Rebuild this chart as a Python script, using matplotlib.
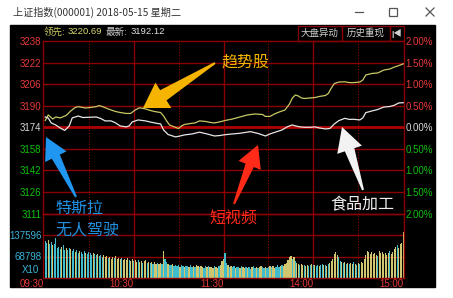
import numpy as np
import matplotlib
matplotlib.use('Agg')
from matplotlib import pyplot as plt
from matplotlib.patches import Rectangle, Polygon

plt.rcParams['font.family'] = ['Liberation Sans', 'Noto Sans CJK SC', 'DejaVu Sans']
CJK = ['Noto Sans CJK SC', 'DejaVu Sans']

# ---- data ----
pre_close = 3174.03
price_labels = ['3238', '3222', '3206', '3190', '3174', '3158', '3142', '3126', '3111']
pct_labels = ['2.00%', '1.50%', '1.00%', '0.50%', '0.00%', '0.50%', '1.00%', '1.50%', '2.00%']
vol_labels = ['137596', '68798']
vol_ticks = [137596, 68798]
time_labels = ['09:30', '10:30', '11:30', '14:00', '15:00']
time_ticks = [0, 60, 120, 180, 240]

# index (white) line, minute index -> points
idx_min = [1, 3, 5, 8, 11, 14, 17, 19, 23, 26, 31, 35, 38, 41, 45, 48, 51, 55, 57, 59,
           63, 68, 71, 76, 78, 80, 83, 88, 91, 94, 99, 104, 109, 114, 118, 120, 124, 131,
           138, 143, 148, 151, 154, 159, 163, 166, 168, 171, 174, 178, 181, 184, 188, 191,
           194, 197, 201, 204, 207, 211, 213, 215, 219, 223, 227, 231, 234, 237, 240]
idx_val = [3181.6, 3180.8, 3177.2, 3175.7, 3173.5, 3171.7, 3175.0, 3180.9, 3182.3, 3181.2,
           3181.4, 3181.6, 3180.5, 3178.7, 3178.7, 3177.2, 3175.0, 3174.3, 3175.0, 3177.9,
           3179.4, 3178.7, 3177.9, 3176.8, 3176.5, 3172.0, 3168.7, 3166.9, 3167.6, 3168.4,
           3169.1, 3170.4, 3169.1, 3167.6, 3168.0, 3168.4, 3168.9, 3169.6, 3170.8, 3169.5,
           3167.6, 3169.1, 3170.2, 3172.0, 3174.6, 3175.7, 3175.0, 3174.3, 3174.0, 3174.0,
           3174.3, 3173.5, 3172.8, 3173.1, 3176.5, 3178.9, 3180.6, 3179.8, 3179.9, 3179.4,
           3180.9, 3184.8, 3186.0, 3187.1, 3188.9, 3189.3, 3190.2, 3191.9, 3192.1]

# leading (yellow) line
lead_min = [1, 3, 6, 8, 11, 15, 18, 21, 23, 28, 31, 35, 37, 40, 43, 48, 51, 55, 58, 61,
            64, 68, 71, 74, 78, 80, 82, 84, 88, 90, 92, 94, 98, 101, 104, 108, 111, 114,
            118, 121, 126, 131, 136, 141, 146, 148, 151, 154, 158, 161, 164, 166, 168, 170,
            172, 174, 178, 181, 184, 188, 190, 192, 194, 197, 201, 204, 207, 211, 213, 215,
            219, 223, 227, 231, 234, 237, 240]
lead_val = [3179.0, 3183.1, 3180.1, 3181.6, 3180.9, 3182.7, 3186.0, 3188.6, 3189.2, 3188.2,
            3188.6, 3189.2, 3190.0, 3188.9, 3187.5, 3185.6, 3184.9, 3184.2, 3184.2, 3186.7,
            3188.4, 3187.5, 3186.4, 3185.6, 3184.9, 3182.3, 3178.7, 3175.7, 3173.9, 3173.1,
            3175.0, 3176.1, 3176.8, 3177.2, 3178.7, 3178.3, 3177.6, 3177.2, 3178.1, 3179.0,
            3180.1, 3181.6, 3183.1, 3183.8, 3183.4, 3182.0, 3182.0, 3183.8, 3185.6, 3186.7,
            3191.1, 3195.6, 3197.8, 3197.0, 3195.6, 3195.2, 3195.6, 3195.9, 3196.7, 3197.4,
            3198.9, 3202.9, 3206.2, 3207.3, 3207.5, 3206.9, 3206.9, 3207.3, 3208.8, 3212.5,
            3213.6, 3214.0, 3216.1, 3216.9, 3218.3, 3219.4, 3220.7]

# per-minute volume (241 bars)
volume = [204000, 118000, 112000, 120000, 108000, 115000, 104000, 110000, 127000, 96000,
          100000, 92000, 98000, 104000, 90000, 95000, 88000, 97000, 93000, 86000,
          92000, 84000, 89000, 80000, 86000, 82000, 78000, 85000, 80000, 76000,
          83000, 79000, 74000, 81000, 77000, 72000, 78000, 70000, 75000, 68000,
          72000, 66000, 70000, 64000, 68000, 62000, 67000, 63000, 69000, 60000,
          65000, 61000, 64000, 58000, 62000, 57000, 63000, 59000, 55000, 60000,
          54000, 58000, 52000, 56000, 50000, 55000, 49000, 53000, 57000, 48000,
          52000, 47000, 50000, 46000, 51000, 45000, 49000, 44000, 48000, 46000,
          86000, 62000, 52000, 45000, 42000, 40000, 44000, 38000, 41000, 37000,
          40000, 36000, 42000, 38000, 35000, 39000, 37000, 34000, 40000, 36000,
          38000, 35000, 41000, 37000, 34000, 39000, 36000, 33000, 38000, 35000,
          37000, 34000, 36000, 33000, 38000, 35000, 32000, 37000, 40000, 55000,
          62000, 80000, 48000, 40000, 36000, 38000, 34000, 37000, 33000, 36000,
          35000, 32000, 38000, 34000, 31000, 36000, 33000, 35000, 30000, 34000,
          37000, 33000, 36000, 32000, 35000, 38000, 34000, 31000, 36000, 33000,
          35000, 39000, 34000, 37000, 33000, 36000, 40000, 35000, 38000, 42000,
          39000, 44000, 48000, 58000, 66000, 70000, 62000, 68000, 55000, 47000,
          44000, 41000, 45000, 40000, 43000, 39000, 42000, 38000, 41000, 44000,
          40000, 43000, 39000, 42000, 38000, 41000, 45000, 40000, 43000, 39000,
          44000, 48000, 55000, 62000, 78000, 82000, 74000, 66000, 55000, 50000,
          47000, 52000, 46000, 49000, 45000, 48000, 44000, 50000, 46000, 43000,
          48000, 45000, 51000, 47000, 60000, 72000, 86000, 82000, 78000, 84000,
          76000, 80000, 74000, 70000, 85000, 79000, 83000, 77000, 81000, 75000,
          80000, 86000, 78000, 84000, 92000, 98000, 104000, 96000, 108000, 112000,
          147000]
# bar colour flags: y = yellow, c = cyan
vol_dir = ('yccyccyccc' 'ccyccyccyc' 'cyccycccyc' 'cccyccyccc' 'yyycyyycyy'
           'yycyyyycyy' 'cyycyycyyc' 'ycycyycyyc' 'yccyccyccc' 'cyccyccycc'
           'ycyycyyccy' 'cyyycyycyy' 'yccycyccyc' 'cycyycyccy' 'ccycyyccyc'
           'cycyycccyc' 'yyyyyycycy' 'ycyycyyccy' 'cyccyccycy' 'cyyyyyyccy'
           'cycycyycyc' 'ycyyyyyyyy' 'yyycyyyyyy' 'ycyyyycyyy' 'y')

# ---- layout helpers (pixel boxes) ----
W, H = 453, 298
fig = plt.figure(figsize=(W / 100, H / 100), dpi=100)
fig.patch.set_facecolor('white')


def box(l, t, r, b):
    return [l / W, 1 - b / H, (r - l) / W, (b - t) / H]


bg = fig.add_axes([0, 0, 1, 1], zorder=0)
bg.set_xlim(0, W)
bg.set_ylim(H, 0)
bg.axis('off')
bg.add_patch(Rectangle((10, 25), 425, 262, color='black'))

# title bar
bg.text(13, 12, '上证指数(000001) 2018-05-15 星期二', family=CJK, fontsize=7.3,
        color='#333333', va='center')
bg.plot([355, 363], [12, 12], color='#555555', lw=0.9)
bg.add_patch(Rectangle((389, 8), 7.5, 7.5, fill=False, ec='#555555', lw=0.9))
bg.plot([426, 434], [8, 16], color='#555555', lw=0.9)
bg.plot([426, 434], [16, 8], color='#555555', lw=0.9)

# header row
bg.text(44, 32, '领先:', family=CJK, fontsize=6.8, color='#c8c860', va='center')
bg.text(68, 32, '3220.69', fontsize=6.8, color='#d8d870', va='center')
bg.text(106, 32, '最新:', family=CJK, fontsize=6.8, color='#d0d0d0', va='center')
bg.text(131, 32, '3192.12', fontsize=6.8, color='#e0e0e0', va='center')
for l, r in [(298, 342), (342, 390), (390, 404)]:
    bg.add_patch(Rectangle((l, 25.5), r - l, 15, fill=False, ec='#8a0000', lw=0.9))
bg.text(320, 33, '大盘异动', family=CJK, fontsize=6.8, color='#d0d0d0', ha='center', va='center')
bg.text(366, 33, '历史重现', family=CJK, fontsize=6.8, color='#d0d0d0', ha='center', va='center')
bg.text(397, 33, '|◀', fontsize=6, color='#d0d0d0', ha='center', va='center', fontweight='bold')

grid_c = '#8c0000'

ax = fig.add_axes(box(43, 41, 404, 213.5), zorder=2)
av = fig.add_axes(box(43, 213.5, 404, 278), zorder=2, sharex=ax)
for a in (ax, av):
    a.patch.set_alpha(0)
    for s in a.spines.values():
        s.set_color(grid_c)
        s.set_linewidth(1)
    for m in (60, 120, 180):
        a.axvline(m, color=grid_c, lw=1, zorder=1)
    for m in (30, 90, 150, 210):
        a.axvline(m, color=grid_c, lw=0.8, ls=(0, (1, 1.5)), zorder=1)
    a.tick_params(length=0, pad=1)

# price panel
levels = [pre_close * (1 + k * 0.005) for k in range(4, -5, -1)]
ax.set_ylim(levels[-1], levels[0])
ax.set_xlim(-0.5, 240.5)
for lv in levels[1:-1]:
    if abs(lv - pre_close) < 1e-6:
        ax.axhline(lv, color='#b00000', lw=2, zorder=1)
    else:
        ax.axhline(lv, color=grid_c, lw=1, zorder=1)
ax.plot(lead_min, lead_val, color='#c8c864', lw=0.9, zorder=3)
ax.plot(idx_min, idx_val, color='#e6e6e6', lw=0.9, zorder=3)

colors_l = ['#e83a3a'] * 4 + ['#d8d8d8'] + ['#10c010'] * 4
ax.set_yticks(levels)
ax.set_yticklabels(price_labels, fontsize=7)
for t, c in zip(ax.get_yticklabels(), colors_l):
    t.set_color(c)
axr = ax.twinx()
axr.set_ylim(ax.get_ylim())
axr.set_yticks(levels)
axr.set_yticklabels(pct_labels, fontsize=7)
axr.tick_params(length=0, pad=1)
for s in axr.spines.values():
    s.set_visible(False)
for t, c in zip(axr.get_yticklabels(), colors_l):
    t.set_color(c)
ax.tick_params(axis='x', labelbottom=False)

# volume panel
vmax = 3 * 68798
av.set_ylim(0, vmax)
for v in vol_ticks:
    av.axhline(v, color=grid_c, lw=1, zorder=1)
bar_colors = ['#d0c670' if f == 'y' else '#40bccc' for f in vol_dir]
av.bar(range(len(volume)), volume, width=0.8, color=bar_colors, zorder=2, linewidth=0)
av.set_yticks(vol_ticks)
av.set_yticklabels(vol_labels, fontsize=7, color='#3cb4d8')
av.text(-0.01, 0.12, 'X10', transform=av.transAxes, ha='right', va='center',
        fontsize=7, color='#3cb4d8')
av.set_xticks(time_ticks)
av.set_xticklabels(time_labels, fontsize=7, color='#e83a3a', ha='right')
av.tick_params(axis='x', pad=1)

# annotation overlay
fg = fig.add_axes([0, 0, 1, 1], zorder=5)
fg.set_xlim(0, W)
fg.set_ylim(H, 0)
fg.axis('off')
fg.patch.set_alpha(0)


def arrow(tail, tip, tail_w, shaft_w, head_w, head_len, color):
    tail = np.array(tail, float)
    tip = np.array(tip, float)
    d = tip - tail
    u = d / np.hypot(*d)
    n = np.array([-u[1], u[0]])
    base = tip - u * head_len
    pts = [tail + n * tail_w / 2, base + n * shaft_w / 2, base + n * head_w / 2, tip,
           base - n * head_w / 2, base - n * shaft_w / 2, tail - n * tail_w / 2]
    fg.add_patch(Polygon(pts, closed=True, color=color, lw=0))


arrow((215, 63), (143, 108), 2, 12, 30, 24, '#f5b400')
arrow((76, 197), (46, 137), 2, 9, 24, 22, '#2196f0')
arrow((234, 204), (258, 145), 2, 9, 24, 22, '#ff2a18')
arrow((363, 190), (342, 127), 2, 10, 26, 24, '#f2f2f2')

fg.text(245, 62, '趋势股', family=CJK, fontsize=11.5, color='#f5b400', ha='center', va='center')
fg.text(55, 208, '特斯拉', family=CJK, fontsize=11.5, color='#2090e0', ha='left', va='center')
fg.text(55, 230, '无人驾驶', family=CJK, fontsize=11.5, color='#2090e0', ha='left', va='center')
fg.text(233, 219, '短视频', family=CJK, fontsize=11.5, color='#ff2a18', ha='center', va='center')
fg.text(362, 205, '食品加工', family=CJK, fontsize=11.5, color='#f0f0f0', ha='center', va='center')

fig.savefig('out.png', dpi=100, facecolor='white')
